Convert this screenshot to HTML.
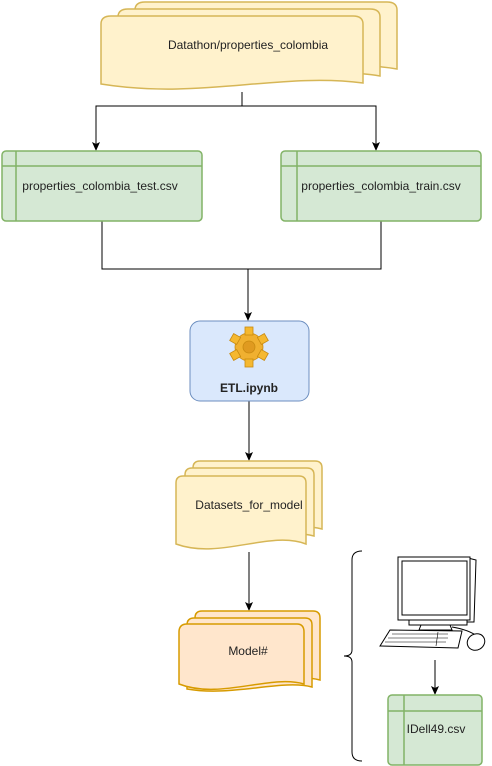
<!DOCTYPE html>
<html><head><style>body{margin:0;background:#fff}svg{display:block}text{font-family:"Liberation Sans",sans-serif;font-size:12px;fill:#222}</style></head><body>
<svg width="492" height="766" viewBox="0 0 492 766" xmlns="http://www.w3.org/2000/svg">
<g fill="none" stroke="#000" stroke-width="1">
<path d="M242,92 V106 H96 V148"/><path d="M242,106 H376 V148"/>
<path d="M102,221 V269 H381 V221"/><path d="M248,269 V318"/>
<path d="M249,401 V457"/><path d="M249,552 V607"/><path d="M435,660 V691"/>
</g>
<g fill="#000"><path d="M92,142 L96,151 L100,142 L96,144Z"/><path d="M372,142 L376,151 L380,142 L376,144Z"/><path d="M244,312 L248,321 L252,312 L248,314Z"/><path d="M245,452 L249,461 L253,452 L249,454Z"/><path d="M245,602 L249,611 L253,602 L249,604Z"/><path d="M431,686 L435,695 L439,686 L435,688Z"/></g>
<g fill="#fff2cc" stroke="#d6b656" stroke-width="1.5">
<path d="M135,10 Q135,2 145,2 L387,2 Q397,2 397,10 L397,69 C340,58 250,80 135,70 Z"/>
<path d="M118,17 Q118,9 128,9 L370,9 Q380,9 380,17 L380,76 C320,65 230,87 118,77 Z"/>
<path d="M101,24 Q101,16 111,16 L353,16 Q363,16 363,24 L363,83 C280,72 200,100 101,84 Z"/>
</g>
<text x="248" y="49" text-anchor="middle">Datathon/properties_colombia</text>
<g fill="#d5e8d4" stroke="#82b366" stroke-width="1.5">
<rect x="2" y="151" width="200" height="70" rx="4"/><path d="M2,166 H202 M16,151 V221"/>
<rect x="281" y="151" width="200" height="70" rx="4"/><path d="M281,166 H481 M297,151 V221"/>
<rect x="388" y="695" width="94" height="70" rx="4"/><path d="M388,711 H482 M404,695 V765"/>
</g>
<text x="100" y="190" text-anchor="middle">properties_colombia_test.csv</text>
<text x="381" y="190" text-anchor="middle">properties_colombia_train.csv</text>
<text x="436" y="733" text-anchor="middle">IDell49.csv</text>
<rect x="190" y="321" width="119" height="80" rx="10" fill="#dae8fc" stroke="#6c8ebf"/>
<g transform="translate(249,347)">
<g fill="#f0b030" stroke="#c88a10" stroke-width="0.8">
<circle r="14"/>
<g fill="#f5b830"><rect x="-4" y="-20" width="8" height="8"/><rect x="-4" y="-20" width="8" height="8" transform="rotate(60)"/><rect x="-4" y="-20" width="8" height="8" transform="rotate(120)"/><rect x="-4" y="-20" width="8" height="8" transform="rotate(180)"/><rect x="-4" y="-20" width="8" height="8" transform="rotate(240)"/><rect x="-4" y="-20" width="8" height="8" transform="rotate(300)"/></g>
<circle r="6" fill="#e09a20"/></g></g>
<text x="249" y="392" text-anchor="middle" font-weight="bold">ETL.ipynb</text>
<g fill="#fff2cc" stroke="#d6b656" stroke-width="1.5">
<path d="M193,468 Q193,461 200,461 L315,461 Q322,461 322,468 L322,529 C290,520 240,540 193,530 Z"/>
<path d="M185,475 Q185,468 192,468 L307,468 Q314,468 314,475 L314,536 C282,527 232,547 185,537 Z"/>
<path d="M176,483 Q176,476 183,476 L299,476 Q306,476 306,483 L306,544 C270,530 220,560 176,544 Z"/>
</g>
<text x="249" y="509" text-anchor="middle">Datasets_for_model</text>
<g fill="#ffe6cc" stroke="#d79b00" stroke-width="1.5">
<path d="M195,618 Q195,611 202,611 L313,611 Q320,611 320,618 L320,680 C290,672 240,690 195,682 Z"/>
<path d="M187,625 Q187,618 194,618 L305,618 Q312,618 312,625 L312,687 C282,679 232,697 187,689 Z"/>
<path d="M179,632 Q179,624 187,624 L297,624 Q304,624 304,632 L304,684 C270,674 220,700 179,684 Z"/>
</g>
<text x="248" y="655" text-anchor="middle">Model#</text>
<path d="M362,551 Q352,551 352,560 L352,650 Q352,656 344,656 Q352,656 352,662 L352,752 Q352,761 362,761" fill="none" stroke="#000"/>
<g fill="#fff" stroke="#000" stroke-width="1">
<path d="M468,558 L476,560 L474,622 L466,622"/>
<rect x="398" y="557" width="72" height="63"/>
<rect x="402" y="561" width="65" height="54"/>
<rect x="409" y="620" width="58" height="5"/>
<path d="M419,630 L421,625 L450,625 L452,630 Z"/>
<path d="M390,630 L462,631 L458,648 L380,646 Z"/>
<path d="M392,634 L448,634 M388,638 L448,638 M385,642 L446,642 M438,632 L436,646" stroke-width="0.6"/>
<path d="M452,627 Q470,630 478,637" fill="none"/>
<ellipse cx="476" cy="642" rx="9" ry="8" transform="rotate(-30 476 642)"/>
</g>
</svg>
</body></html>
